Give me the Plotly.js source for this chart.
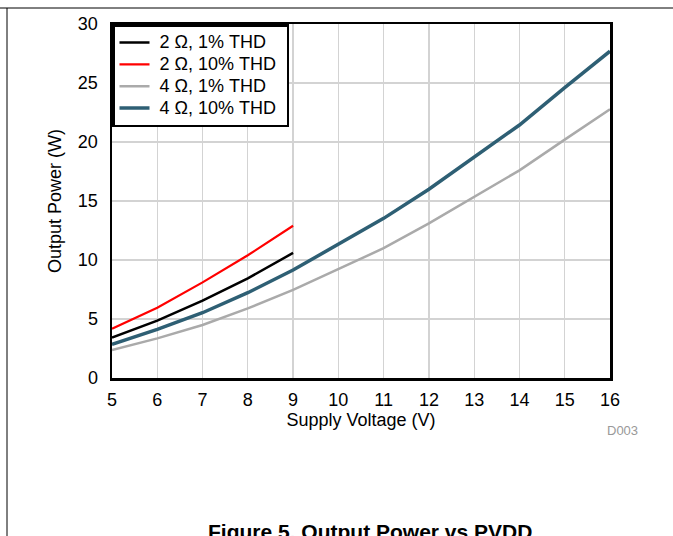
<!DOCTYPE html>
<html>
<head>
<meta charset="utf-8">
<script src="https://cdn.plot.ly/plotly-3.0.1.min.js"></script>
<style>html,body{margin:0;padding:0;background:#fff;}#chart{width:673px;height:536px;}</style>
</head>
<body>
<div id="chart"></div>
<script>
const voltage2 = [5, 6, 7, 8, 9];
const voltage4 = [5, 6, 7, 8, 9, 10, 11, 12, 13, 14, 15, 16];
const p2_1 = [3.42, 4.86, 6.55, 8.45, 10.6];
const p2_10 = [4.18, 5.96, 8.1, 10.4, 12.9];
const p4_1 = [2.37, 3.36, 4.49, 5.9, 7.46, 9.2, 11.0, 13.1, 15.37, 17.6, 20.2, 22.77];
const p4_10 = [2.85, 4.12, 5.53, 7.23, 9.15, 11.36, 13.53, 16.0, 18.76, 21.44, 24.6, 27.7];
const names = ['2 Ω, 1% THD', '2 Ω, 10% THD', '4 Ω, 1% THD', '4 Ω, 10% THD'];
const xTicks = [5, 6, 7, 8, 9, 10, 11, 12, 13, 14, 15, 16];
const yTicks = [0, 5, 10, 15, 20, 25, 30];

const font = '"Liberation Sans", Arial, sans-serif';
const big = s => '<span style="font-size:18px">&nbsp;' + s + '&nbsp;</span>';
const traces = [
  {x: voltage2, y: p2_1, name: big(names[0]), mode: 'lines', line: {color: '#000000', width: 2.5}},
  {x: voltage2, y: p2_10, name: big(names[1]), mode: 'lines', line: {color: '#ff0000', width: 2.2}},
  {x: voltage4, y: p4_1, name: big(names[2]), mode: 'lines', line: {color: '#aaaaaa', width: 2.5}},
  {x: voltage4, y: p4_10, name: big(names[3]), mode: 'lines', line: {color: '#2e5f74', width: 3.5}}
];
const L = 112, R = 610, T = 24, B = 378;
const px = v => (v - L) / (R - L);
const py = v => (B - v) / (B - T);
const layout = {
  width: 673, height: 536,
  margin: {l: L, r: 673 - R, t: T, b: 536 - B, pad: 0},
  paper_bgcolor: '#ffffff', plot_bgcolor: '#ffffff',
  font: {family: font, size: 18, color: '#000'},
  showlegend: true,
  legend: {x: 0, y: 1, xanchor: 'left', yanchor: 'top', bgcolor: '#ffffff',
    bordercolor: '#000', borderwidth: 2.5, font: {size: 14.5, family: font, color: '#000'}, tracegroupgap: 0},
  xaxis: {range: [5, 16], tickvals: xTicks, ticktext: xTicks.map(String), showgrid: true,
    gridcolor: '#d3d3d3', gridwidth: 1.2, zeroline: false, showline: true, linecolor: '#000',
    linewidth: 2.5, mirror: true, ticks: '', ticklabelstandoff: 4, tickfont: {size: 18, color: '#000'},
    title: {text: 'Supply Voltage (V)', font: {size: 18, color: '#000'}, standoff: 2}},
  yaxis: {range: [0, 30], tickvals: yTicks, ticktext: yTicks.map(String), showgrid: true,
    gridcolor: '#d3d3d3', gridwidth: 1.2, zeroline: false, showline: true, linecolor: '#000',
    linewidth: 2.5, mirror: true, ticks: '', ticklabelstandoff: 8, tickfont: {size: 18, color: '#000'},
    title: {text: 'Output Power (W)', font: {size: 18, color: '#000'}, standoff: 12}},
  shapes: [
    {type: 'line', xref: 'paper', yref: 'paper', x0: px(0), x1: px(673), y0: py(8), y1: py(8), line: {color: '#000', width: 1}},
    {type: 'line', xref: 'paper', yref: 'paper', x0: px(7), x1: px(7), y0: py(8), y1: py(536), line: {color: '#000', width: 1}}
  ],
  annotations: [
    {xref: 'paper', yref: 'paper', x: px(640), y: py(430), xanchor: 'right', yanchor: 'middle',
      text: 'D003', showarrow: false, font: {size: 13, color: '#999999', family: font}},
    {xref: 'paper', yref: 'paper', x: px(370), y: py(531), xanchor: 'center', yanchor: 'middle',
      text: '<b>Figure 5. Output Power vs PVDD</b>', showarrow: false, font: {size: 21, color: '#000', family: font}}
  ]
};
Plotly.newPlot('chart', traces, layout, {displayModeBar: false, staticPlot: true});
</script>
</body>
</html>
